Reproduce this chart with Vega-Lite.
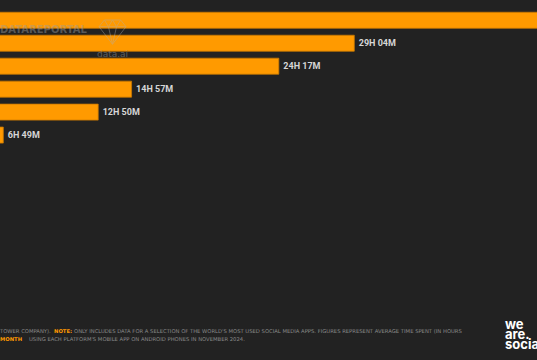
{
  "$schema": "https://vega.github.io/schema/vega-lite/v6.json",
  "width": 537,
  "height": 360,
  "autosize": "none",
  "padding": 0,
  "background": "#222222",
  "config": {"view": {"stroke": null}, "axis": {"disable": true}},
  "datasets": {
    "apps": [
      {"app": "TikTok", "rank": 1, "hours": 41.5, "label": "41H 30M"},
      {"app": "YouTube", "rank": 2, "hours": 29.067, "label": "29H 04M"},
      {"app": "Facebook", "rank": 3, "hours": 24.283, "label": "24H 17M"},
      {"app": "WhatsApp", "rank": 4, "hours": 14.95, "label": "14H 57M"},
      {"app": "Instagram", "rank": 5, "hours": 12.833, "label": "12H 50M"},
      {"app": "X", "rank": 6, "hours": 6.817, "label": "6H 49M"}
    ]
  },
  "layer": [
    {
      "data": {"name": "apps"},
      "mark": {"type": "bar", "size": 16, "fill": "#ff9a00", "stroke": "#c97800", "strokeWidth": 0.8, "clip": true},
      "encoding": {
        "x": {"field": "hours", "type": "quantitative", "scale": {"domain": [6.608, 40.65], "nice": false, "zero": false}, "axis": null},
        "x2": {"datum": 0},
        "y": {"field": "rank", "type": "quantitative", "scale": {"domain": [0.3353, 15.577], "nice": false, "zero": false, "reverse": true}, "axis": null}
      }
    },
    {
      "data": {"name": "apps"},
      "mark": {"type": "text", "align": "left", "baseline": "middle", "dx": 4.5, "font": "Roboto, sans-serif", "fontWeight": "bold", "fontSize": 9, "fill": "#d6d6d6"},
      "encoding": {
        "x": {"field": "hours", "type": "quantitative"},
        "y": {"field": "rank", "type": "quantitative"},
        "text": {"field": "label"}
      }
    },
    {
      "data": {"values": [{}]},
      "mark": {"type": "text", "align": "left", "baseline": "middle", "font": "DejaVu Sans", "fontWeight": "bold", "fontSize": 10, "fill": "#9a9a9a", "opacity": 0.45, "text": "DATAREPORTAL"},
      "encoding": {
        "x": {"datum": 6.608, "type": "quantitative"},
        "y": {"datum": 1.415, "type": "quantitative"}
      }
    },
    {
      "data": {"values": [{}]},
      "mark": {"type": "point", "filled": false, "stroke": "#b0b0b0", "strokeWidth": 1, "opacity": 0.4, "size": 729, "shape": "M-0.6,-0.8L0.6,-0.8L1,-0.3L0,1L-1,-0.3ZM-1,-0.3L1,-0.3M-0.6,-0.8L-0.3,-0.3L0,1M0.6,-0.8L0.3,-0.3L0,1M-0.3,-0.3L0,-0.8L0.3,-0.3"},
      "encoding": {
        "x": {"datum": 13.74, "type": "quantitative"},
        "y": {"datum": 1.457, "type": "quantitative"}
      }
    },
    {
      "data": {"values": [{}]},
      "mark": {"type": "text", "align": "center", "baseline": "middle", "font": "DejaVu Sans", "fontSize": 9, "fill": "#9a9a9a", "opacity": 0.5, "text": "data.ai"},
      "encoding": {
        "x": {"datum": 13.74, "type": "quantitative"},
        "y": {"datum": 2.452, "type": "quantitative"}
      }
    },
    {
      "data": {"values": [{}]},
      "mark": {"type": "text", "align": "left", "baseline": "middle", "font": "DejaVu Sans", "fontSize": 5.25, "fill": "#8a8a8a", "text": "TOWER COMPANY)."},
      "encoding": {
        "x": {"datum": 6.608, "type": "quantitative"},
        "y": {"datum": 14.518, "type": "quantitative"}
      }
    },
    {
      "data": {"values": [{}]},
      "mark": {"type": "text", "align": "left", "baseline": "middle", "font": "DejaVu Sans", "fontWeight": "bold", "fontSize": 5.25, "fill": "#ff9a00", "text": "NOTE:"},
      "encoding": {
        "x": {"datum": 10.031, "type": "quantitative"},
        "y": {"datum": 14.518, "type": "quantitative"}
      }
    },
    {
      "data": {"values": [{}]},
      "mark": {"type": "text", "align": "left", "baseline": "middle", "font": "DejaVu Sans", "fontSize": 5.25, "fill": "#8a8a8a", "text": "ONLY INCLUDES DATA FOR A SELECTION OF THE WORLD'S MOST USED SOCIAL MEDIA APPS. FIGURES REPRESENT AVERAGE TIME SPENT (IN HOURS"},
      "encoding": {
        "x": {"datum": 11.299, "type": "quantitative"},
        "y": {"datum": 14.518, "type": "quantitative"}
      }
    },
    {
      "data": {"values": [{}]},
      "mark": {"type": "text", "align": "left", "baseline": "middle", "font": "DejaVu Sans", "fontWeight": "bold", "fontSize": 5.25, "fill": "#ff9a00", "text": "MONTH"},
      "encoding": {
        "x": {"datum": 6.608, "type": "quantitative"},
        "y": {"datum": 14.899, "type": "quantitative"}
      }
    },
    {
      "data": {"values": [{}]},
      "mark": {"type": "text", "align": "left", "baseline": "middle", "font": "DejaVu Sans", "fontSize": 5.25, "fill": "#8a8a8a", "text": "USING EACH PLATFORM'S MOBILE APP ON ANDROID PHONES IN NOVEMBER 2024."},
      "encoding": {
        "x": {"datum": 8.446, "type": "quantitative"},
        "y": {"datum": 14.899, "type": "quantitative"}
      }
    },
    {
      "data": {"values": [{}]},
      "mark": {"type": "text", "align": "left", "baseline": "alphabetic", "font": "Inter, Open Sans, sans-serif", "fontWeight": "bold", "fontSize": 13, "lineHeight": 10, "fill": "#ffffff", "text": ["we", "are.", "social"]},
      "encoding": {
        "x": {"datum": 38.62, "type": "quantitative"},
        "y": {"datum": 14.446, "type": "quantitative"}
      }
    }
  ]
}
